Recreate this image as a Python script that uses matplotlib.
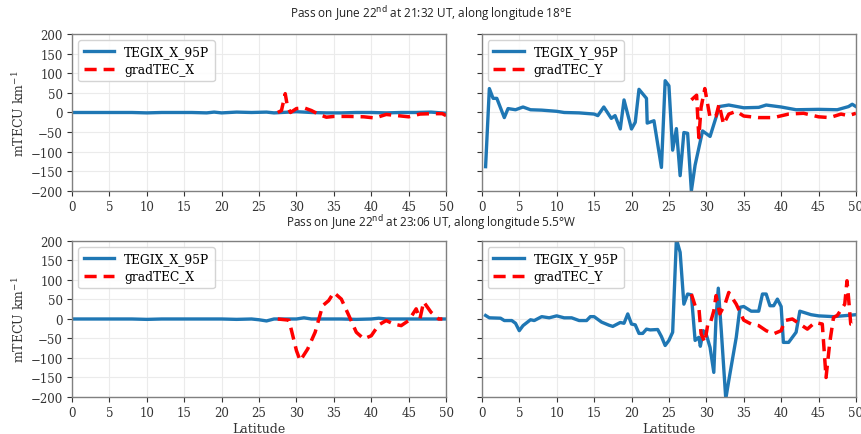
import numpy as np
import matplotlib
matplotlib.use("Agg")
import matplotlib.pyplot as plt

# --- pass 1 (21:32 UT, 18E) ---
lat_tx1 = [0, 2, 4, 6, 8, 10, 12, 14, 16, 18, 19, 20, 21, 22, 24, 26, 27, 28, 29, 30, 31, 32, 34, 36, 38, 40, 42, 44, 46, 48, 50]
tx1 = [0, 0, 0, 0, 0, -1, 0, 0, 0, -1, 1, -1, 0, 1, 0, 1, -1, 0, 1, 2, 1, 0, -1, -1, 0, 0, -1, 0, 0, 1, -2]
lat_gx1 = [27.5, 28.0, 28.5, 28.8, 29.2, 30.0, 31.0, 32.0, 33.0, 34.0, 35.0, 37.0, 39.0, 40.5, 42.0, 43.5, 45.0, 46.5, 48.0, 49.5, 50.0]
gx1 = [0, 5, 48, 15, 0, 10, 12, 5, -5, -12, -10, -10, -11, -14, -5, -8, -11, -4, -3, -3, -8]

lat_ty1 = [0.5, 1.0, 1.5, 2.0, 3.0, 3.5, 4.5, 5.5, 6.5, 8, 10, 11, 13, 15, 15.5, 16.3, 17.3, 17.8, 18.5, 19.0, 20.0, 20.5, 21.0, 22.0,
           22.1, 23.0, 24.0, 24.5, 25.0, 25.5, 26.0, 26.5, 27.0, 27.5, 28.0, 28.5, 29.5, 30.5, 31.5, 31.7, 33, 35, 37, 38, 40, 42, 45,
           47.5, 49, 49.5, 50]
ty1 = [-138, 61, 36, 36, -13, 10, 7, 14, 7, 6, 3, 0, -1, -4, -8, 14, -15, -8, -42, 32, -42, -25, 59, 36,
       -27, -21, -140, 81, 68, -96, -41, -161, -51, -53, -200, -134, -47, -61, 0, 15, 19, 12, 13, 19, 14, 7, 8,
       7, 15, 21, 15]
lat_gy1 = [28.0, 28.7, 29.0, 29.3, 29.8, 30.5, 31.3, 31.7, 32.3, 33, 34, 35, 37, 39, 41, 43, 45, 46.5, 48, 49, 50]
gy1 = [32, 44, -64, 13, 61, -13, -9, 21, -30, -4, 3, -9, -13, -13, -4, -2, -11, -13, -4, -8, -2]

# --- pass 2 (23:06 UT, 5.5W) ---
lat_tx2 = [0, 2, 4, 6, 8, 10, 12, 14, 16, 18, 20, 22, 24, 25, 26, 27, 28, 29, 30, 31, 32, 34, 36, 38, 40, 41, 42, 44, 46, 48, 50]
tx2 = [0, 0, 0, 0, 0, -1, 0, 0, 0, 0, 0, -1, 0, -2, -5, 0, 0, 0, 0, 3, 0, 0, 0, -1, 0, 2, 0, 0, 0, 0, 0]
lat_gx2 = [27.5, 29.0, 30.0, 30.5, 31.5, 32.5, 33.5, 34.3, 35.0, 36.0, 37.0, 38.0, 39.0, 40.0, 41.0, 42.0, 43.0, 44.0, 45.0,
           46.0, 46.5, 47.0, 48.0, 49.0, 49.5]
gx2 = [0, -3, -81, -107, -77, -34, 34, 47, 68, 51, 9, -34, -51, -43, -15, -4, -13, -17, -4, 26, 0, 44, 17, 0, 0]

lat_ty2 = [0.5, 1, 2.5, 3, 4, 4.5, 5, 5.5, 6.5, 7, 8, 9, 10, 11, 12, 13, 14, 14.5, 15, 16, 17, 17.5, 18.5, 19, 19.5, 20, 20.5,
           21, 21.5, 22, 22.5, 23.5, 24, 24.5, 25, 25.5, 26, 26.5, 27, 27.5, 28, 28.5, 29, 29.2, 29.6, 30, 30.5, 31, 31.3,
           31.6, 32, 32.6, 33, 34, 34.5, 35, 36, 37, 37.5, 38, 38.5, 39, 39.5, 40, 40.3, 41, 42, 42.5, 44, 45, 47, 50]
ty2 = [9, 3, 2, -4, -4, -11, -30, -17, -2, -4, 6, 3, 8, 3, 3, -4, -4, 6, 6, -8, -16, -19, -9, -11, 13, -13, -15,
       -37, -37, -26, -28, -27, -45, -68, -55, -34, 205, 171, 38, 64, 62, -55, -47, -70, -30, -40, -73, -137, 4,
       79, -30, -205, -158, -47, 30, 32, 20, 20, 64, 64, 34, 34, 51, 32, -60, -60, -34, 20, 11, 8, 6, 11]
lat_gy2 = [28, 28.5, 29, 29.3, 29.8, 30.2, 30.5, 31, 31.3, 31.8, 32.5, 33, 34, 35, 36, 37, 38, 39, 40, 40.5, 41.5, 42.5, 43.5,
           44.5, 45.5, 46, 46.5, 47, 47.5, 48.5, 48.8, 49, 49.3, 50]
gy2 = [64, 34, 30, -38, -60, -13, -13, 21, 60, 13, 38, 68, 38, -3, -13, -17, -30, -38, -30, -4, 0, -13, -26,
       -9, -13, -150, -60, 4, 9, 38, 98, 56, -13, -13]

blue = '#1f77b4'
plt.rcParams['font.family'] = 'DejaVu Serif'
plt.rcParams['mathtext.fontset'] = 'dejavuserif'

fig = plt.figure(figsize=(8.62, 4.35), dpi=100)
fig.patch.set_facecolor('white')

x_l, x_r, w = 0.0835, 0.559, 0.434
y_t, h_t = 0.5586, 0.361
y_b, h_b = 0.0851, 0.3586

ax1 = fig.add_axes([x_l, y_t, w, h_t])
ax2 = fig.add_axes([x_r, y_t, w, h_t])
ax3 = fig.add_axes([x_l, y_b, w, h_b])
ax4 = fig.add_axes([x_r, y_b, w, h_b])

panels = [
    (ax1, lat_tx1, tx1, lat_gx1, gx1, 'TEGIX_X_95P', 'gradTEC_X'),
    (ax2, lat_ty1, ty1, lat_gy1, gy1, 'TEGIX_Y_95P', 'gradTEC_Y'),
    (ax3, lat_tx2, tx2, lat_gx2, gx2, 'TEGIX_X_95P', 'gradTEC_X'),
    (ax4, lat_ty2, ty2, lat_gy2, gy2, 'TEGIX_Y_95P', 'gradTEC_Y'),
]

for ax, xa, ya, xb, yb, la, lb in panels:
    ax.plot(xa, ya, color=blue, lw=2.4, label=la)
    ax.plot(xb, yb, color='red', lw=2.5, ls=(0, (3.5, 2)), label=lb)
    ax.set_xlim(0, 50)
    ax.set_ylim(-200, 200)
    ax.set_xticks(np.arange(0, 51, 5))
    ax.set_yticks(np.arange(-200, 201, 50))
    ax.grid(True, color='#ebebeb', lw=0.8)
    ax.set_axisbelow(True)
    for s in ax.spines.values():
        s.set_color('#808080')
        s.set_linewidth(1.0)
    ax.tick_params(labelsize=8.5, colors='#333333', length=3.5, width=0.8, pad=3)
    ax.legend(loc='upper left', fontsize=8.8, framealpha=0.9, edgecolor='#d0d0d0',
              handlelength=2.5, borderpad=0.45, labelspacing=0.35)

for ax in (ax2, ax4):
    ax.set_yticklabels([])
for ax in (ax1, ax3):
    ax.set_ylabel('mTECU km$^{-1}$', fontsize=9, color='#333333', labelpad=3)
for ax in (ax3, ax4):
    ax.set_xlabel('Latitude', fontsize=9, color='#333333', labelpad=2)

title_font = ['Open Sans', 'DejaVu Sans']
fig.text(0.5, 0.968, 'Pass on June 22$^{\\mathsf{nd}}$ at 21:32 UT, along longitude 18°E',
         ha='center', va='center', fontsize=8.5, family=title_font, color='#222222')
fig.text(0.5, 0.489, 'Pass on June 22$^{\\mathsf{nd}}$ at 23:06 UT, along longitude 5.5°W',
         ha='center', va='center', fontsize=8.5, family=title_font, color='#222222')

fig.savefig('out.png', dpi=100, facecolor='white')
